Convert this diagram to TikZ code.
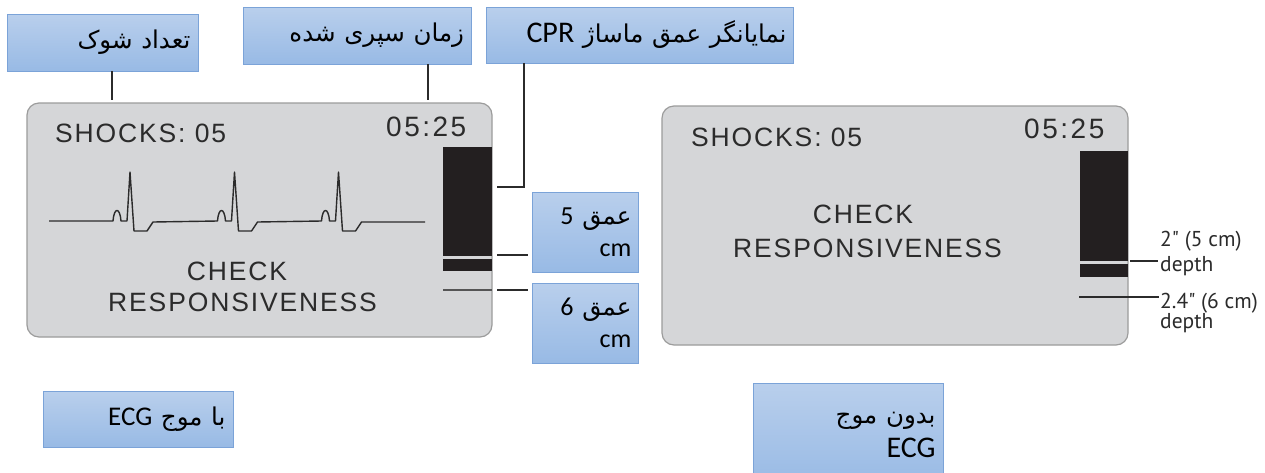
\documentclass[tikz,border=0pt]{standalone}
\usepackage{fontspec}
\setmainfont{Carlito}
\newfontfamily\arabicfont[Script=Arabic]{DejaVu Sans}
\newfontfamily\scrfont[LetterSpace=7]{Liberation Sans}
\newfontfamily\timefont[LetterSpace=9]{Liberation Sans}
\newfontfamily\depthfont{PT Sans}
\TeXXeTstate=1
\definecolor{boxtop}{HTML}{B9CFEC}
\definecolor{boxbot}{HTML}{98BAE5}
\definecolor{boxline}{HTML}{7BA3D8}
\definecolor{scrfill}{HTML}{D5D6D8}
\definecolor{scrline}{HTML}{9C9C9C}
\definecolor{ink}{HTML}{2B2B2B}
\definecolor{barc}{HTML}{231F20}
\tikzset{
  lbl/.style={draw=boxline, line width=0.8pt, top color=boxtop, bottom color=boxbot,
    inner sep=0pt, align=right, font=\fontsize{26}{32}\selectfont},
  screen/.style={draw=scrline, fill=scrfill, line width=1.2pt, rounded corners=12pt, inner sep=0pt},
  scrtxt/.style={inner sep=0pt, text=ink, font=\scrfont\fontsize{26.5}{30}\selectfont},
  timetxt/.style={inner sep=0pt, text=ink, font=\timefont\fontsize{28}{30}\selectfont},
  deptxt/.style={inner sep=0pt, text=ink, font=\depthfont\fontsize{21.5}{24}\selectfont},
  leader/.style={draw=ink, line width=1.2pt},
}
\newcommand{\ar}[1]{{\arabicfont\fontsize{24.5}{30}\selectfont\beginR #1\endR}}
\newcommand{\lt}[1]{\beginL{\rmfamily #1}\endL}
\begin{document}
\begin{tikzpicture}[x=1pt,y=-1pt]
\useasboundingbox[fill=white] (0,0) rectangle (1265,472);

% ---------- screen 1 ----------
\node[screen, minimum width=465pt, minimum height=234pt] (scr1) at (259.5,220) {};
\fill[barc] (443,147) rectangle (492,256);
\fill[barc] (443,259) rectangle (492,271);
\draw[draw=ink!80, line width=1.5pt] (443,290) -- (492,290);
\node[scrtxt, anchor=base west] (sh1) at (55,142) {SHOCKS: 05};
\node[timetxt, anchor=base west] (tm1) at (386,136) {05:25};
\node[scrtxt, anchor=base] (ck1) at (237,280) {CHECK};
\node[scrtxt, anchor=base] (rs1) at (242.5,311) {RESPONSIVENESS};
\draw[ink, line width=1.4pt, line join=round] (49,221)
  foreach \o in {0,104.5,208.5} {
    -- ({113+\o},221) .. controls ({114+\o},207) and ({120+\o},207) .. ({121+\o},221)
    -- ({127+\o},221) -- ({130+\o},172) -- ({134+\o},231) -- ({147+\o},231) -- ({153+\o},222)
  } -- (425,222);

% ---------- screen 2 ----------
\node[screen, minimum width=466pt, minimum height=239pt] (scr2) at (895,225.5) {};
\fill[barc] (1080,151) rectangle (1128,261);
\fill[barc] (1080,264) rectangle (1128,277);
\node[scrtxt, anchor=base west] (sh2) at (691,146) {SHOCKS: 05};
\node[timetxt, anchor=base west] (tm2) at (1024,138) {05:25};
\node[scrtxt, anchor=base] (ck2) at (863,223) {CHECK};
\node[scrtxt, anchor=base] (rs2) at (867.5,257) {RESPONSIVENESS};
\coordinate (u5a) at (1130,261);
\coordinate (u5b) at (1158,261);
\draw[leader] (u5a) -- (u5b);
\coordinate (u6a) at (1079,297);
\coordinate (u6b) at (1159,297);
\draw[leader] (u6a) -- (u6b);
\node[deptxt, anchor=base west] (t5a) at (1160,246) {2" (5 cm)};
\node[deptxt, anchor=base west] (t5b) at (1160,271) {depth};
\node[deptxt, anchor=base west] (t6a) at (1160,308) {2.4" (6 cm)};
\node[deptxt, anchor=base west] (t6b) at (1160,328) {depth};

% ---------- label boxes ----------
\node[lbl, minimum width=191pt, minimum height=57pt, text width=176pt] (shk) at (102.5,42.5) {\ar{تعداد شوک}};
\node[lbl, minimum width=228pt, minimum height=57pt, text width=214pt] (tim) at (357,35.5) {\ar{زمان سپری شده}};
\node[lbl, minimum width=307pt, minimum height=56pt, text width=294pt] (cpr) at (639.5,35) {\ar{نمایانگر عمق ماساژ \lt{\fontsize{30}{32}\selectfont CPR}}};
\node[lbl, minimum width=106pt, minimum height=80pt, text width=93pt] (d5) at (585,232) {\ar{عمق \lt{\fontsize{26}{30}\selectfont 5}}\\[0pt] cm};
\node[lbl, minimum width=106pt, minimum height=80pt, text width=93pt] (d6) at (585,323) {\ar{عمق \lt{\fontsize{26}{30}\selectfont 6}}\\[0pt] cm};
\node[lbl, minimum width=190pt, minimum height=56pt, text width=175pt] (ecg1) at (138,419) {\ar{با موج \lt{\fontsize{27}{30}\selectfont ECG}}};
\node[lbl, minimum width=190pt, minimum height=103pt, text width=175pt] (ecg2) at (848,434.5) {\ar{بدون موج}\\[2pt] {\fontsize{30}{32}\selectfont ECG}};

% ---------- leaders ----------
\coordinate (shkEnd) at (112,100);
\draw[leader] (shk.south -| shkEnd) -- (shkEnd);
\coordinate (timEnd) at (428,100);
\draw[leader] (tim.south -| timEnd) -- (timEnd);
\coordinate (cprX) at (524,0);
\coordinate (cprEnd) at (497,187);
\draw[leader] (cpr.south -| cprX) |- (cprEnd);
\coordinate (l5a) at (497,255);
\coordinate (l5b) at (528,255);
\draw[leader] (l5a) -- (l5b);
\coordinate (l6a) at (497,290);
\coordinate (l6b) at (528,290);
\draw[leader] (l6a) -- (l6b);
\end{tikzpicture}
\end{document}
